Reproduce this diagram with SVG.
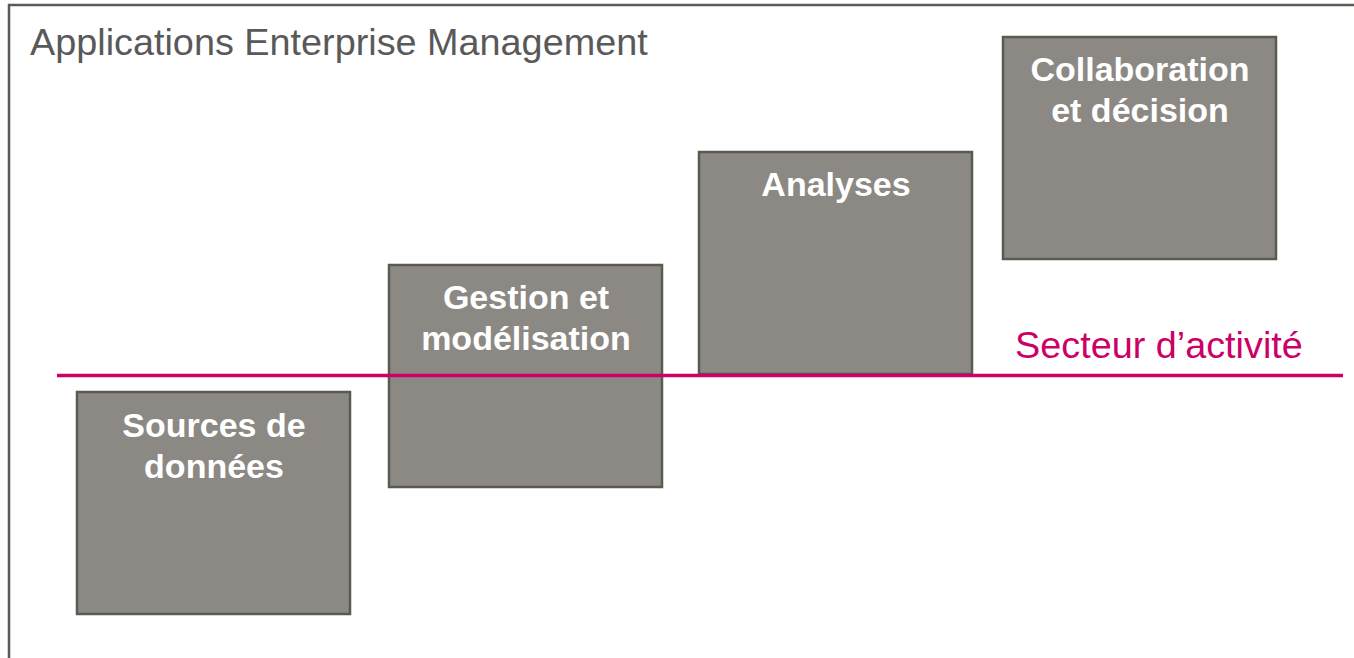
<svg xmlns="http://www.w3.org/2000/svg" width="1354" height="658" viewBox="0 0 1354 658">
<style>
.frame{fill:none;stroke:#5a5b52;stroke-width:2.5}
.box{fill:#8c8984;stroke:#595a50;stroke-width:2.5}
.bt{font-family:"Liberation Sans",Arial,sans-serif;font-weight:bold;font-size:34px;fill:#ffffff;text-anchor:middle}
.title{font-family:"Liberation Sans",Arial,sans-serif;font-size:37.8px;fill:#595959}
.sect{font-family:"Liberation Sans",Arial,sans-serif;font-size:37.8px;fill:#cc0066}
.line{stroke:#cc0066;stroke-width:3.5;fill:none}
</style>
<rect width="1354" height="658" fill="#ffffff"/>
<rect class="frame" x="9" y="5" width="1400" height="700"/>
<text class="title" x="30" y="55">Applications Enterprise Management</text>
<g id="sources">
<rect class="box" x="77" y="392" width="273" height="222"/>
<text class="bt" x="214" y="437">Sources de</text>
<text class="bt" x="214" y="478">données</text>
</g>
<g id="gestion">
<rect class="box" x="389" y="265" width="273" height="222"/>
<text class="bt" x="526" y="309">Gestion et</text>
<text class="bt" x="526" y="350">modélisation</text>
</g>
<g id="analyses">
<rect class="box" x="699" y="152" width="273" height="222"/>
<text class="bt" x="836" y="196">Analyses</text>
</g>
<g id="collaboration">
<rect class="box" x="1003" y="37" width="273" height="222"/>
<text class="bt" x="1140" y="81">Collaboration</text>
<text class="bt" x="1140" y="122">et décision</text>
</g>
<g id="connectors">
<line class="line" x1="57" y1="375.5" x2="1343" y2="375.5"/>
</g>
<text class="sect" x="1015" y="358">Secteur d’activité</text>
</svg>
